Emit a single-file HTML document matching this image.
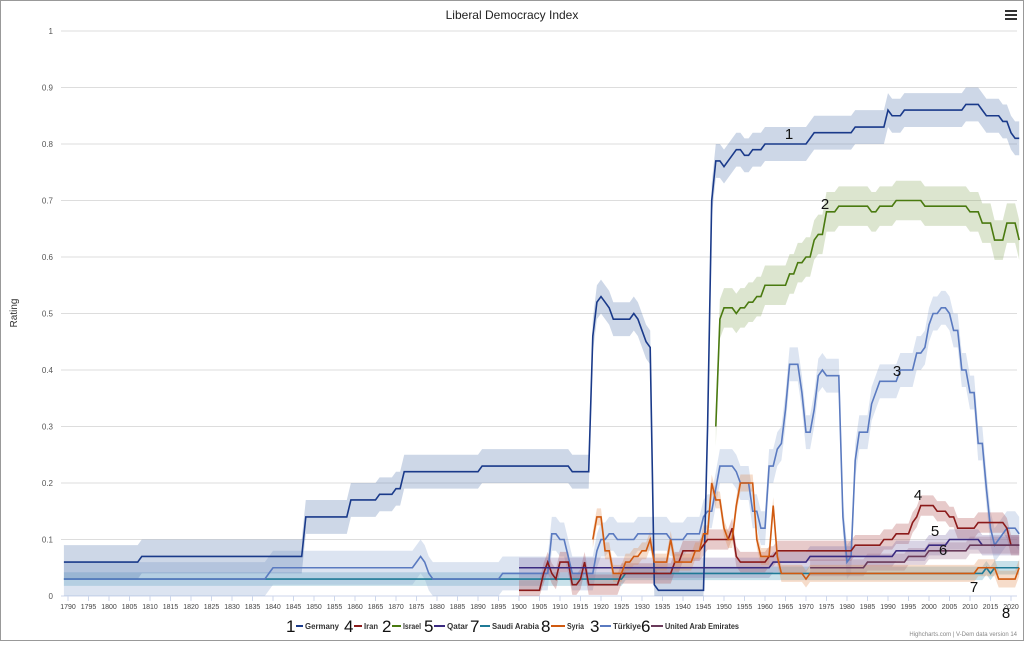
<!DOCTYPE html>
<html><head><meta charset="utf-8"><style>
body{margin:0;background:#fff;font-family:"Liberation Sans",sans-serif;}
#c{position:relative;width:1022px;height:639px;border:1px solid #999;}
</style></head><body><div id="c"><svg id="s" width="1022" height="639" xmlns="http://www.w3.org/2000/svg"></svg></div>
<script>
const s=document.getElementById('s');
const X=y=>67+(y-1790)*4.1, Y=v=>595-v*565;
let h='';
h+='<text x="511" y="18" text-anchor="middle" font-size="12" fill="#222">Liberal Democracy Index</text>';
h+='<g fill="#333"><rect x="1004" y="9" width="12" height="2"/><rect x="1004" y="13" width="12" height="2"/><rect x="1004" y="17" width="12" height="2"/></g>';
h+='<text x="16" y="312" font-size="10" fill="#333" text-anchor="middle" transform="rotate(-90 16 312)">Rating</text>';
for(let i=0;i<=10;i++){let y=Y(i/10);h+=`<line x1="60" x2="1016" y1="${y}" y2="${y}" stroke="${i?'#ddd':'#ccd6eb'}"/>`;
h+=`<text x="52" y="${y+3}" font-size="8" fill="#555" text-anchor="end">${i==0?0:i==10?1:(i/10).toFixed(1)}</text>`;}
for(let yr=1790;yr<=2020;yr+=5){let x=X(yr);h+=`<line x1="${x}" x2="${x}" y1="595" y2="600" stroke="#ccd6eb"/><text x="${x}" y="608" font-size="7" fill="#444" text-anchor="middle">${yr}</text>`;}
function draw(pts,col,bw,bc){let d=[];for(let i=0;i<pts.length;i++){const [yr,v]=pts[i];d.push([yr,v]);if(i+1<pts.length&&pts[i+1][0]-yr>1)d.push([pts[i+1][0]-1,v]);}
let up=d.map(p=>X(p[0])+','+Y(Math.min(1,p[1]+bw))).join(' '),dn=d.slice().reverse().map(p=>X(p[0])+','+Y(Math.max(0,p[1]-bw))).join(' ');
h+=`<polygon points="${up} ${dn}" fill="${bc}" opacity="0.3"/>`;
s._lines=(s._lines||'')+`<polyline points="${d.map(p=>X(p[0])+','+Y(p[1])).join(' ')}" fill="none" stroke="${col}" stroke-width="1.6"/>`;}
const sa=[[1789,0.03],[1926,0.04],[2014,0.05],[2015,0.04],[2016,0.05],[2022,0.05]];
const tr=[[1789,0.03],[1839,0.04],[1840,0.05],[1875,0.06],[1876,0.07],[1877,0.06],[1878,0.04],[1879,0.03],[1896,0.04],[1907,0.04],[1908,0.11],[1910,0.10],[1912,0.07],[1913,0.04],[1918,0.04],[1919,0.08],[1920,0.10],[1922,0.11],[1924,0.10],[1929,0.11],[1937,0.10],[1941,0.11],[1943,0.11],[1945,0.14],[1946,0.15],[1948,0.19],[1949,0.23],[1952,0.23],[1953,0.22],[1954,0.20],[1956,0.20],[1957,0.15],[1959,0.12],[1960,0.12],[1961,0.23],[1963,0.26],[1964,0.27],[1965,0.33],[1966,0.41],[1968,0.41],[1969,0.36],[1970,0.29],[1971,0.29],[1972,0.33],[1973,0.39],[1974,0.40],[1975,0.39],[1978,0.39],[1979,0.14],[1980,0.06],[1981,0.07],[1982,0.24],[1983,0.29],[1985,0.29],[1986,0.34],[1987,0.36],[1988,0.38],[1992,0.38],[1993,0.40],[1995,0.40],[1997,0.43],[1999,0.44],[2000,0.48],[2001,0.50],[2003,0.51],[2005,0.50],[2006,0.47],[2008,0.40],[2010,0.36],[2012,0.27],[2014,0.19],[2015,0.12],[2016,0.09],[2017,0.10],[2018,0.11],[2019,0.12],[2020,0.12],[2022,0.11]];
const de=[[1789,0.06],[1808,0.07],[1847,0.07],[1848,0.14],[1859,0.17],[1866,0.18],[1870,0.19],[1872,0.22],[1891,0.23],[1913,0.22],[1917,0.22],[1918,0.46],[1919,0.52],[1920,0.53],[1921,0.52],[1922,0.51],[1923,0.49],[1927,0.49],[1928,0.5],[1929,0.49],[1930,0.47],[1931,0.45],[1932,0.44],[1933,0.02],[1934,0.01],[1945,0.01],[1946,0.3],[1947,0.7],[1948,0.77],[1950,0.76],[1951,0.77],[1952,0.78],[1953,0.79],[1955,0.78],[1957,0.79],[1960,0.80],[1971,0.81],[1972,0.82],[1982,0.83],[1990,0.86],[1991,0.85],[1994,0.86],[2009,0.87],[2013,0.86],[2014,0.85],[2018,0.84],[2020,0.82],[2021,0.81],[2022,0.81]];
const il=[[1948,0.30],[1949,0.49],[1950,0.51],[1953,0.50],[1954,0.51],[1956,0.52],[1958,0.53],[1960,0.55],[1966,0.57],[1968,0.59],[1970,0.60],[1972,0.63],[1973,0.64],[1975,0.68],[1978,0.69],[1986,0.68],[1988,0.69],[1992,0.70],[1999,0.69],[2010,0.68],[2013,0.66],[2016,0.63],[2019,0.66],[2021,0.66],[2022,0.63]];
const ir=[[1900,0.01],[1906,0.04],[1907,0.06],[1908,0.04],[1909,0.03],[1910,0.06],[1912,0.06],[1913,0.02],[1915,0.03],[1916,0.06],[1917,0.02],[1925,0.04],[1937,0.04],[1938,0.06],[1940,0.08],[1945,0.09],[1946,0.10],[1950,0.10],[1952,0.12],[1953,0.07],[1954,0.06],[1961,0.07],[1963,0.08],[1982,0.09],[1989,0.10],[1992,0.11],[1996,0.13],[1997,0.14],[1998,0.16],[2001,0.16],[2002,0.15],[2005,0.14],[2007,0.12],[2010,0.12],[2012,0.13],[2016,0.13],[2019,0.12],[2020,0.09],[2022,0.09]];
const qa=[[1900,0.05],[1962,0.06],[1971,0.07],[1992,0.08],[2000,0.09],[2005,0.10],[2012,0.10],[2013,0.09],[2022,0.09]];
const ae=[[1971,0.05],[1985,0.06],[1995,0.07],[2000,0.08],[2010,0.09],[2022,0.09]];
const sy=[[1918,0.10],[1919,0.14],[1921,0.08],[1923,0.04],[1925,0.04],[1926,0.06],[1928,0.07],[1930,0.08],[1932,0.10],[1933,0.06],[1935,0.06],[1937,0.10],[1938,0.06],[1943,0.08],[1945,0.11],[1947,0.20],[1948,0.17],[1950,0.12],[1951,0.10],[1953,0.16],[1954,0.20],[1957,0.20],[1958,0.10],[1959,0.07],[1961,0.07],[1962,0.16],[1963,0.07],[1964,0.04],[1968,0.04],[1970,0.03],[1971,0.04],[2011,0.04],[2012,0.05],[2016,0.05],[2017,0.03],[2021,0.03],[2022,0.05]];
draw(sa,'#1f7a96',0.012,'#4a9ab8');
draw(tr,'#5a7ac0',0.03,'#8aa4d0');
draw(de,'#1a3a8a',0.03,'#5a7ab0');
draw(il,'#4a7a10',0.035,'#8aaa60');
draw(ir,'#8b1a1a',0.018,'#b05050');
draw(qa,'#3a2a80',0.018,'#8070a8');
draw(ae,'#6a3a5a',0.015,'#a07090');
draw(sy,'#d05a10',0.015,'#e08a50');
h+=s._lines;
[['1',788,138],['2',824,208],['3',896,375],['4',917,499],['5',934,535],['6',942,554],['7',973,591],['8',1005,617]].forEach(t=>h+=`<text x="${t[1]}" y="${t[2]}" font-size="15" fill="#111" text-anchor="middle">${t[0]}</text>`);
const lg=[['1','Germany','#1a3a8a',285,304,34],['4','Iran','#8b1a1a',343,363,14],['2','Israel','#4a7a10',381,402,18],['5','Qatar','#3a2a80',423,446,21],['7','Saudi Arabia','#1f7a96',469,491,47],['8','Syria','#d05a10',540,566,17],['3','Türkiye','#5a7ac0',589,612,28],['6','United Arab Emirates','#6a3a5a',640,664,74]];
lg.forEach(l=>{h+=`<text x="${l[3]}" y="631" font-size="17" fill="#111">${l[0]}</text><line x1="${l[3]+10}" x2="${l[4]-2}" y1="625" y2="625" stroke="${l[2]}" stroke-width="2"/><text x="${l[4]}" y="628" font-size="8" font-weight="bold" fill="#333" textLength="${l[5]}" lengthAdjust="spacingAndGlyphs">${l[1]}</text>`;});
h+='<text x="1016" y="635" font-size="6" fill="#888" text-anchor="end">Highcharts.com | V-Dem data version 14</text>';
s.innerHTML=h;
</script></body></html>
